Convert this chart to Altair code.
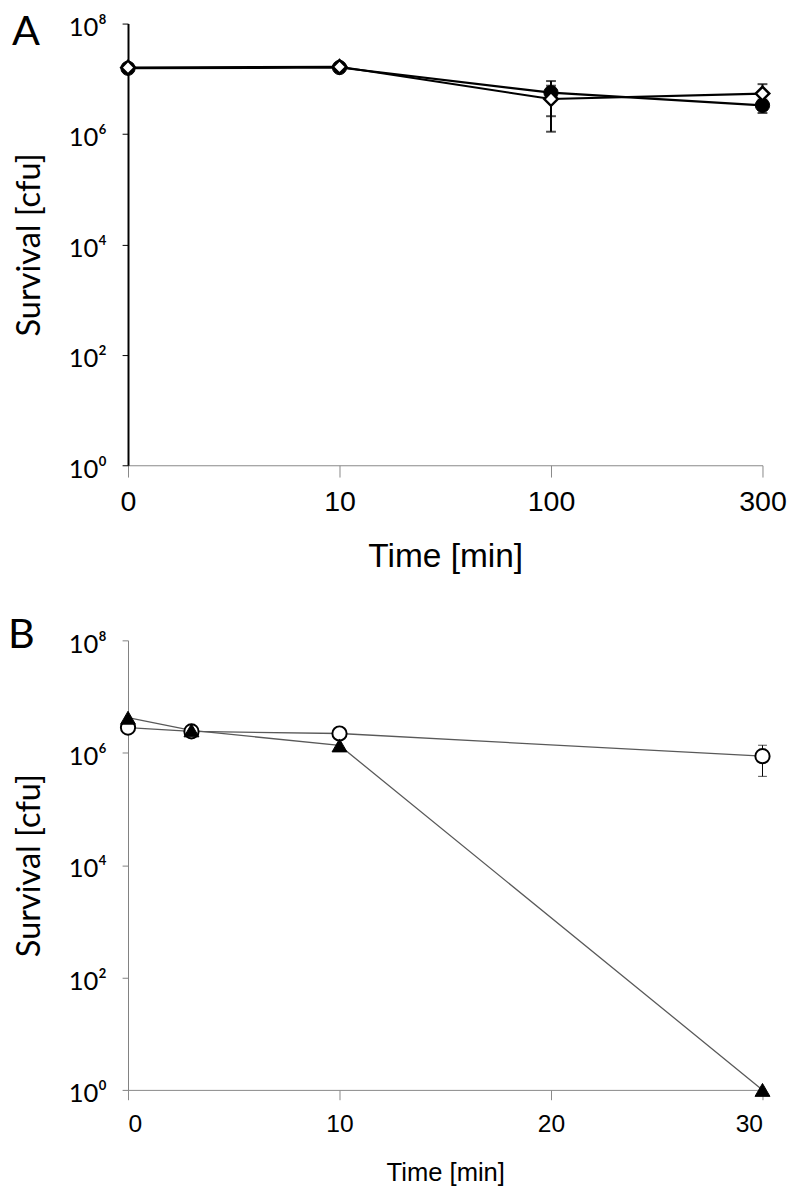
import altair as alt
import pandas as pd

# ---------------- Panel A data ----------------
a_times = ["0", "10", "100", "300"]
a_diamond = [1.6e7, 1.65e7, 4.3e6, 5.4e6]
a_diamond_err = [0, 0, 3.2e6, 2.6e6]
a_circle = [1.55e7, 1.6e7, 5.6e6, 3.3e6]
a_circle_err = [0, 0, 3.5e6, 0.9e6]

# ---------------- Panel B data ----------------
b_times = [0, 3, 10, 30]
b_circle = [2.8e6, 2.4e6, 2.2e6, 8.7e5]
b_circle_err = [0, 0, 0, 4.9e5]
b_triangle = [4.2e6, 2.5e6, 1.35e6, 1.0]
b_triangle_err = [0, 0, 0, 0]

y_ticks = [1, 1e2, 1e4, 1e6, 1e8]
label_expr = "'10' + ['⁰','¹','²','³','⁴','⁵','⁶','⁷','⁸'][round(log(datum.value)/LN10)]"

def frame(times, series):
    rows = []
    for name, vals, errs in series:
        for t, v, e in zip(times, vals, errs):
            rows.append({"time": t, "series": name, "value": v,
                         "lo": (v - e) if e else None, "hi": (v + e) if e else None})
    return pd.DataFrame(rows)

dfA = frame(a_times, [("diamond", a_diamond, a_diamond_err), ("circle", a_circle, a_circle_err)])
dfB = frame(b_times, [("circle", b_circle, b_circle_err), ("triangle", b_triangle, b_triangle_err)])

LABEL_FONT = "Lato, Open Sans, DejaVu Sans, sans-serif"
ARIAL = "Liberation Sans, Arial, sans-serif"

yscale = alt.Scale(type="log", domain=[1, 1e8])

def yaxis(dom_color, dom_width):
    return alt.Axis(values=y_ticks, labelExpr=label_expr, grid=False,
                    tickSize=6, tickColor=dom_color, domainColor=dom_color,
                    domainWidth=dom_width, tickWidth=1,
                    labelFont=LABEL_FONT, labelFontSize=26, labelPadding=16, labelOffset=4,
                    title="Survival [cfu]", titleFont=LABEL_FONT, titleFontSize=33,
                    titleFontWeight="normal", titlePadding=22)

# ---------------- Panel A ----------------
xA = alt.X("time:O", sort=a_times, scale=alt.Scale(type="point", domain=a_times, padding=0),
           axis=alt.Axis(labelAngle=0, labelFont=ARIAL, labelFontSize=29, labelPadding=11,
                         tickSize=12, tickColor="#888888", domainColor="#888888",
                         labelColor="black", title="Time [min]", titleFont=ARIAL,
                         titleFontSize=34, titleFontWeight="normal", titlePadding=24))
yA = alt.Y("value:Q", scale=yscale, axis=yaxis("black", 2))

baseA = alt.Chart(dfA)
lineA = baseA.mark_line(color="black", strokeWidth=2.2).encode(x=xA, y=yA, detail="series:N")
errA = baseA.mark_rule(color="black", strokeWidth=2).encode(x=xA, y="lo:Q", y2="hi:Q")
capLoA = baseA.mark_tick(color="black", orient="horizontal", size=10, thickness=2).encode(x=xA, y="lo:Q")
capHiA = baseA.mark_tick(color="black", orient="horizontal", size=10, thickness=2).encode(x=xA, y="hi:Q")
circA = baseA.transform_filter("datum.series == 'circle'").mark_point(
    shape="circle", filled=True, fill="black", stroke="black", strokeWidth=1, size=210, opacity=1
).encode(x=xA, y=yA)
diaA = baseA.transform_filter("datum.series == 'diamond'").mark_point(
    shape="diamond", filled=True, fill="white", stroke="black", strokeWidth=2.5, size=190, opacity=1
).encode(x=xA, y=yA)
letterA = alt.Chart(pd.DataFrame({"t": ["A"]})).mark_text(
    text="A", font=LABEL_FONT, fontSize=42, align="left", baseline="alphabetic", color="black"
).encode(x=alt.value(-118), y=alt.value(22))

panelA = alt.layer(lineA, errA, capLoA, capHiA, circA, diaA, letterA).properties(width=645, height=449)

# ---------------- Panel B ----------------
xB = alt.X("time:Q", scale=alt.Scale(domain=[0, 30], nice=False),
           axis=alt.Axis(values=[0, 10, 20, 30], labelFont=ARIAL, labelFontSize=25, labelPadding=12,
                         tickSize=10, tickColor="#888888", domainColor="#888888", grid=False,
                         labelColor="black", title="Time [min]", titleFont=ARIAL,
                         titleFontSize=26, titleFontWeight="normal", titlePadding=24))
yB = alt.Y("value:Q", scale=yscale, axis=yaxis("#808080", 1))

baseB = alt.Chart(dfB)
lineB = baseB.mark_line(color="#595959", strokeWidth=1.3).encode(x=xB, y=yB, detail="series:N")
errB = baseB.mark_rule(color="black", strokeWidth=1).encode(x=xB, y="lo:Q", y2="hi:Q")
capLoB = baseB.mark_tick(color="black", orient="horizontal", size=9, thickness=1).encode(x=xB, y="lo:Q")
capHiB = baseB.mark_tick(color="black", orient="horizontal", size=9, thickness=1).encode(x=xB, y="hi:Q")
circB = baseB.transform_filter("datum.series == 'circle'").mark_point(
    shape="circle", filled=True, fill="white", stroke="black", strokeWidth=2, size=210, opacity=1
).encode(x=xB, y=yB)
triB = baseB.transform_filter("datum.series == 'triangle'").mark_point(
    shape="triangle-up", filled=True, fill="black", stroke="black", strokeWidth=1, size=230, opacity=1
).encode(x=xB, y=yB)
letterB = alt.Chart(pd.DataFrame({"t": ["B"]})).mark_text(
    text="B", font=LABEL_FONT, fontSize=42, align="left", baseline="alphabetic", color="black"
).encode(x=alt.value(-122), y=alt.value(8))

panelB = alt.layer(lineB, errB, capLoB, capHiB, circB, triB, letterB).properties(width=645, height=457)

chart = alt.vconcat(panelA, panelB, spacing=42).properties(
    padding={"left": 0, "top": -6, "right": 5, "bottom": 0}
).configure_view(stroke=None).configure_axis(grid=False)

chart.save("out.html", embed_options={"renderer": "svg", "actions": False})
